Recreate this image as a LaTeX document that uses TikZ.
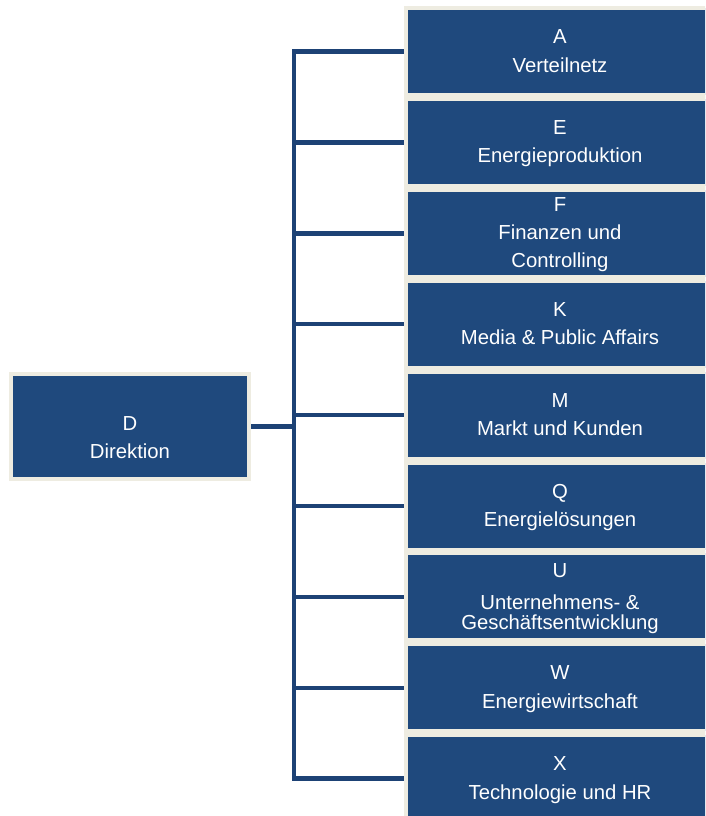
\documentclass[tikz,border=0pt]{standalone}
\usepackage{fontspec}
\setmainfont{Liberation Sans}
\usetikzlibrary{backgrounds}
\definecolor{boxblue}{HTML}{1F497D}
\definecolor{linkblue}{HTML}{1D4275}
\definecolor{rim}{HTML}{EEECE1}
\begin{document}
\begin{tikzpicture}[x=1pt,y=-1pt,
  unit/.style={draw=rim, line width=4pt, fill=boxblue, inner sep=0pt,
    minimum width=308pt, minimum height=87pt},
  head/.style={draw=rim, line width=4pt, fill=boxblue, inner sep=0pt,
    minimum width=238pt, minimum height=105pt},
  caption/.style={text=white, inner sep=0pt, anchor=base,
    font=\fontsize{20.3}{24}\selectfont},
  link/.style={draw=linkblue, line width=4.5pt}]
\useasboundingbox (0,0) rectangle (705,816);
\clip (0,0) rectangle (705,816);

% head of the organisation
\node[head] (D) at (130,426.5) {};
\node[caption] (D-1) at (130,430) {D};
\node[caption] (D-2) at (130,458) {Direktion};

% departments
\node[unit] (A) at (560,51.5) {};
\node[caption] (A-1) at (560,43.5) {A};
\node[caption] (A-2) at (560,72) {Verteilnetz};

\node[unit] (E) at (560,142.4) {};
\node[caption] (E-1) at (560,134.4) {E};
\node[caption] (E-2) at (560,162.9) {Energieproduktion};

\node[unit] (F) at (560,233.3) {};
\node[caption] (F-1) at (560,211.8) {F};
\node[caption] (F-2) at (560,239.8) {Finanzen und};
\node[caption] (F-3) at (560,267.8) {Controlling};

\node[unit] (K) at (560,324.2) {};
\node[caption] (K-1) at (560,316.2) {K};
\node[caption] (K-2) at (560,344.7) {Media \& Public Affairs};

\node[unit] (M) at (560,415.1) {};
\node[caption] (M-1) at (560,407.1) {M};
\node[caption] (M-2) at (560,435.6) {Markt und Kunden};

\node[unit] (Q) at (560,506) {};
\node[caption] (Q-1) at (560,498) {Q};
\node[caption] (Q-2) at (560,526.5) {Energielösungen};

\node[unit] (U) at (560,596.9) {};
\node[caption] (U-1) at (560,577.4) {U};
\node[caption] (U-2) at (560,609.4) {Unternehmens- \&};
\node[caption] (U-3) at (560,629.4) {Geschäftsentwicklung};

\node[unit] (W) at (560,687.8) {};
\node[caption] (W-1) at (560,679.8) {W};
\node[caption] (W-2) at (560,708.3) {Energiewirtschaft};

\node[unit] (X) at (560,778.7) {};
\node[caption] (X-1) at (560,770.7) {X};
\node[caption] (X-2) at (560,799.2) {Technologie und HR};

% connectors behind the boxes: one bus with a branch to each department
\coordinate (bus) at (294,0);
\begin{scope}[on background layer]
  \fill[white] (0,0) rectangle (705,816);
  \draw[link] (A.west) -- (A.west -| bus) -- (X.west -| bus) -- (X.west);
  \foreach \n in {E,F,K,M,Q,U,W}
    \draw[link] (\n.west -| bus) -- (\n.west);
  \draw[link] (D.east) -- (D.east -| bus);
\end{scope}
\end{tikzpicture}
\end{document}
